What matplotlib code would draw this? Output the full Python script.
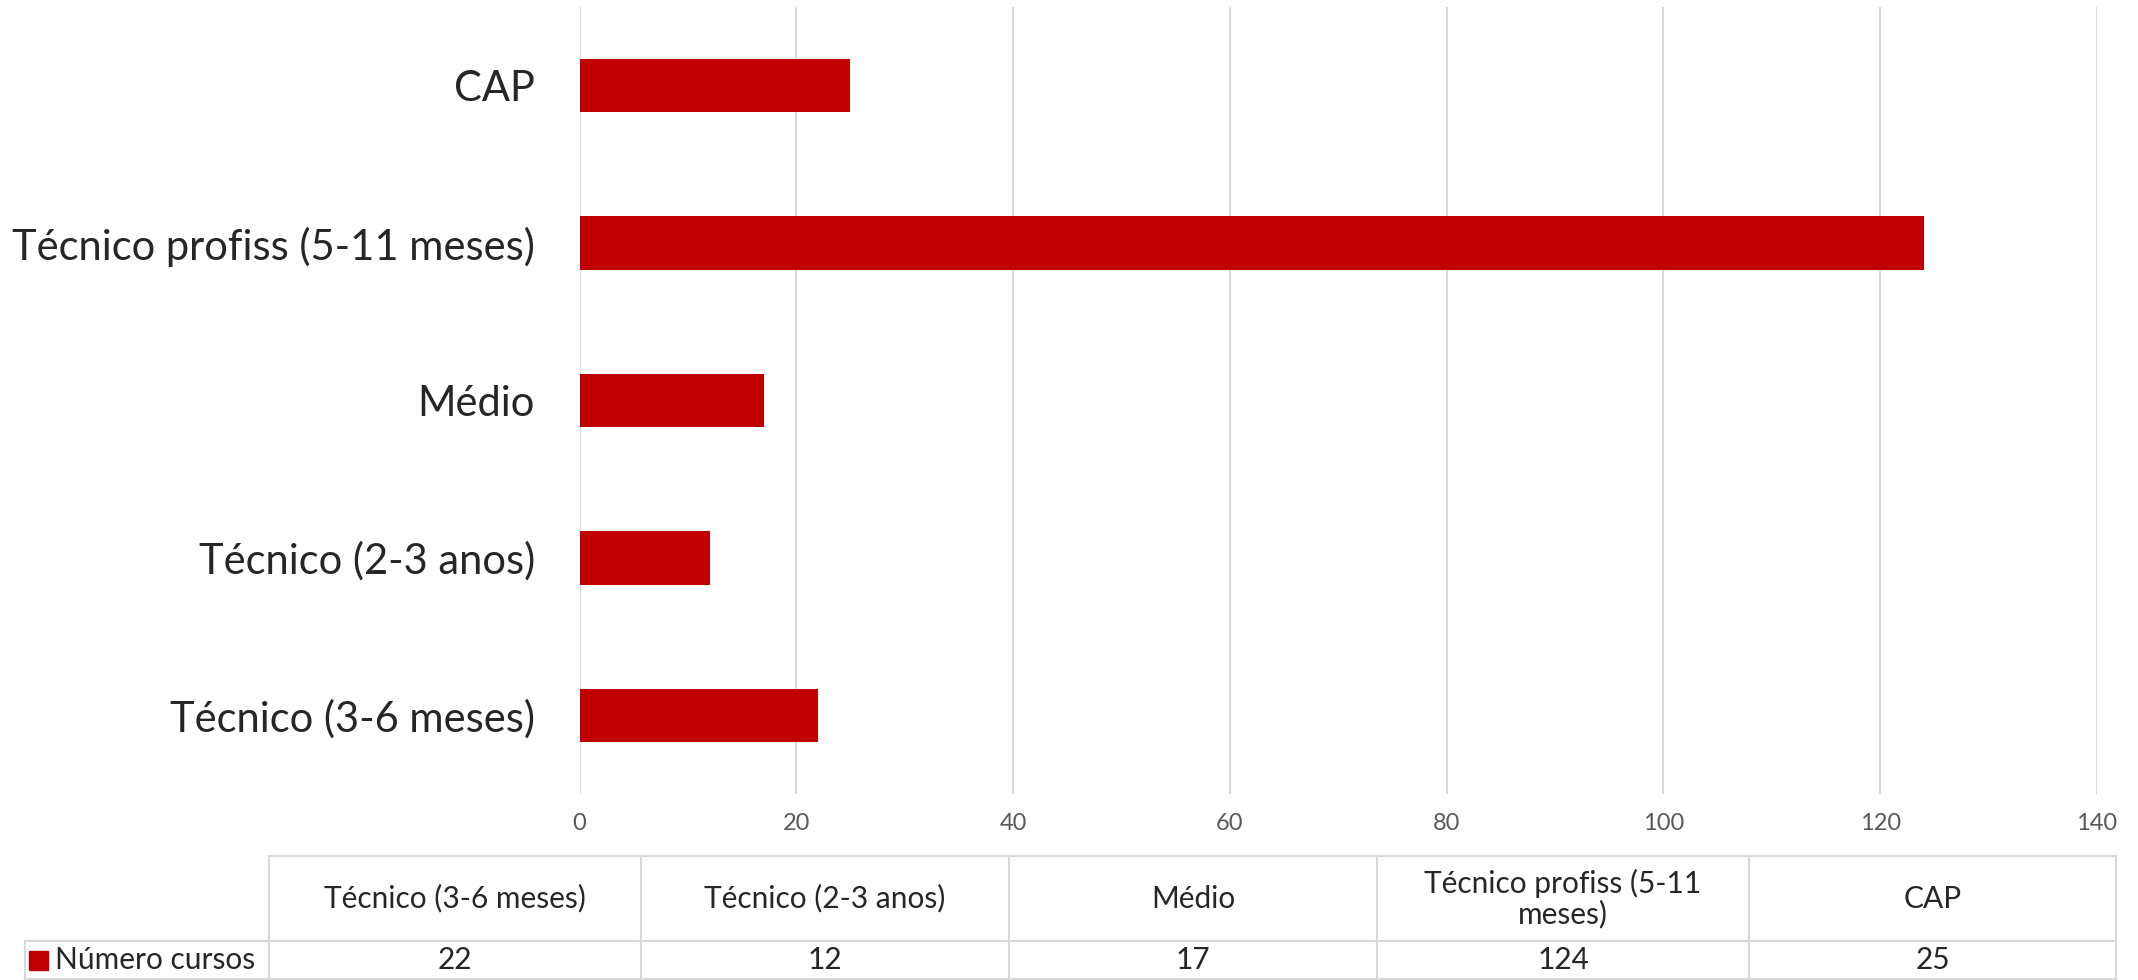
import matplotlib
matplotlib.use("Agg")
import matplotlib.pyplot as plt
from matplotlib.lines import Line2D
from matplotlib.patches import Rectangle

# data (bottom -> top)
categorias = ["Técnico (3-6 meses)", "Técnico (2-3 anos)", "Médio",
              "Técnico profiss (5-11 meses)", "CAP"]
cabecalho = ["Técnico (3-6 meses)", "Técnico (2-3 anos)", "Médio",
             "Técnico profiss (5-11\nmeses)", "CAP"]
num_cursos = [22, 12, 17, 124, 25]
serie = "Número cursos"
xticks = [0, 20, 40, 60, 80, 100, 120, 140]

W, H = 2138, 980
RED = "#C00000"
GRID = "#d9d9d9"
TXT = "#262626"

plt.rcParams["font.family"] = ["Lato", "DejaVu Sans"]

fig = plt.figure(figsize=(W / 100, H / 100), dpi=100)


def fx(px):
    return px / W


def fy(py):
    return 1 - py / H


# bar chart area
ax = fig.add_axes([fx(579.5), fy(794), fx(2097) - fx(579.5), fy(7) - fy(794)])
ypos = list(range(len(categorias)))
ax.barh(ypos, num_cursos, height=0.34, color=RED, zorder=3)
ax.set_xlim(0, 140)
ax.set_ylim(-0.5, len(categorias) - 0.5)
ax.set_xticks(xticks)
ax.set_yticks(ypos)
ax.set_yticklabels(categorias, fontsize=30, color=TXT)
ax.tick_params(axis="x", labelsize=17, labelcolor="#595959", length=0, pad=14)
ax.tick_params(axis="y", length=0, pad=32)
ax.grid(axis="x", color=GRID, lw=1.5, zorder=0)
for s in ax.spines.values():
    s.set_visible(False)

# data table below the chart
col_x = [268.6, 640.8, 1009, 1377, 1749, 2116]
y_top, y_mid, y_bot = 856, 941, 979
lines = [((col_x[0], col_x[-1]), (y_top, y_top)),
         ((24.5, col_x[-1]), (y_mid, y_mid)),
         ((24.5, col_x[-1]), (y_bot, y_bot)),
         ((24.5, 24.5), (y_mid, y_bot))]
for cx in col_x:
    lines.append(((cx, cx), (y_top, y_bot)))
for (xs, ys) in lines:
    fig.add_artist(Line2D([fx(v) for v in xs], [fy(v) for v in ys],
                          color=GRID, lw=1.5))

for i, (hdr, val) in enumerate(zip(cabecalho, num_cursos)):
    cx = (col_x[i] + col_x[i + 1]) / 2
    fig.text(fx(cx), fy((y_top + y_mid) / 2), hdr, ha="center", va="center",
             fontsize=21.5, color=TXT, linespacing=1.1)
    fig.text(fx(cx), fy((y_mid + y_bot) / 2), str(val), ha="center", va="center",
             fontsize=21.5, color=TXT)

fig.add_artist(Rectangle((fx(29), fy(970)), fx(19), fy(951) - fy(970),
                         color=RED, transform=fig.transFigure))
fig.text(fx(55), fy((y_mid + y_bot) / 2), serie, ha="left", va="center",
         fontsize=21.5, color=TXT)

fig.savefig("out.png", dpi=100, facecolor="white")
